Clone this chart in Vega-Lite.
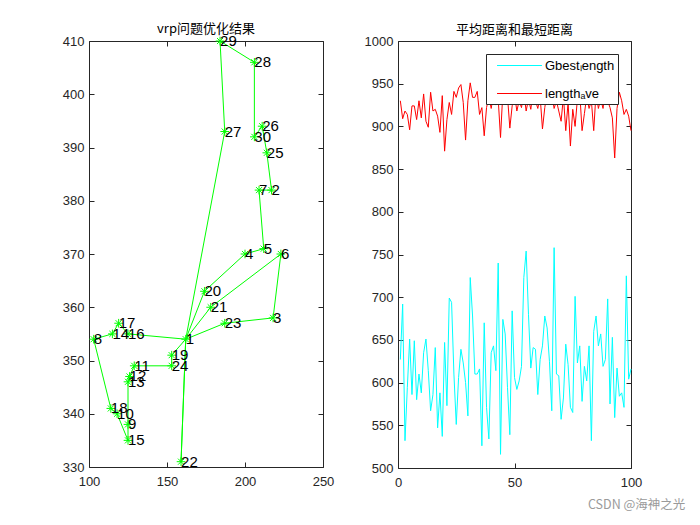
{
  "$schema": "https://vega.github.io/schema/vega-lite/v6.json",
  "padding": {"left": 61, "top": 22, "right": 5, "bottom": 5},
  "title": {"text": "CSDN @海神之光", "orient": "bottom", "anchor": "end", "color": "#9a9a9a", "fontSize": 12.5, "font": "Noto Sans CJK SC", "fontWeight": "normal", "offset": 9, "dx": 43},
  "datasets": {
    "nodes": [
      {"id": "1", "x": 162, "y": 354}, {"id": "2", "x": 217, "y": 382}, {"id": "3", "x": 218, "y": 358},
      {"id": "4", "x": 200, "y": 370}, {"id": "5", "x": 212, "y": 371}, {"id": "6", "x": 223, "y": 370},
      {"id": "7", "x": 209, "y": 382}, {"id": "8", "x": 103, "y": 354}, {"id": "9", "x": 125, "y": 338},
      {"id": "10", "x": 118, "y": 340}, {"id": "11", "x": 129, "y": 349}, {"id": "12", "x": 126, "y": 347},
      {"id": "13", "x": 125, "y": 346}, {"id": "14", "x": 115, "y": 355}, {"id": "15", "x": 125, "y": 335},
      {"id": "16", "x": 125, "y": 355}, {"id": "17", "x": 119, "y": 357}, {"id": "18", "x": 114, "y": 341},
      {"id": "19", "x": 153, "y": 351}, {"id": "20", "x": 174, "y": 363}, {"id": "21", "x": 178, "y": 360},
      {"id": "22", "x": 159, "y": 331}, {"id": "23", "x": 187, "y": 357}, {"id": "24", "x": 153, "y": 349},
      {"id": "25", "x": 214, "y": 389}, {"id": "26", "x": 211, "y": 394}, {"id": "27", "x": 187, "y": 393},
      {"id": "28", "x": 206, "y": 406}, {"id": "29", "x": 184, "y": 410}, {"id": "30", "x": 206, "y": 392}
    ],
    "route": [
      {"seq": 1, "node": 1, "x": 162, "y": 354}, {"seq": 2, "node": 27, "x": 187, "y": 393},
      {"seq": 3, "node": 29, "x": 184, "y": 410}, {"seq": 4, "node": 28, "x": 206, "y": 406},
      {"seq": 5, "node": 30, "x": 206, "y": 392}, {"seq": 6, "node": 26, "x": 211, "y": 394},
      {"seq": 7, "node": 25, "x": 214, "y": 389}, {"seq": 8, "node": 2, "x": 217, "y": 382},
      {"seq": 9, "node": 7, "x": 209, "y": 382}, {"seq": 10, "node": 5, "x": 212, "y": 371},
      {"seq": 11, "node": 4, "x": 200, "y": 370}, {"seq": 12, "node": 20, "x": 174, "y": 363},
      {"seq": 13, "node": 1, "x": 162, "y": 354}, {"seq": 14, "node": 21, "x": 178, "y": 360},
      {"seq": 15, "node": 6, "x": 223, "y": 370}, {"seq": 16, "node": 3, "x": 218, "y": 358},
      {"seq": 17, "node": 23, "x": 187, "y": 357}, {"seq": 18, "node": 1, "x": 162, "y": 354},
      {"seq": 19, "node": 19, "x": 153, "y": 351}, {"seq": 20, "node": 24, "x": 153, "y": 349},
      {"seq": 21, "node": 11, "x": 129, "y": 349}, {"seq": 22, "node": 12, "x": 126, "y": 347},
      {"seq": 23, "node": 13, "x": 125, "y": 346}, {"seq": 24, "node": 9, "x": 125, "y": 338},
      {"seq": 25, "node": 15, "x": 125, "y": 335}, {"seq": 26, "node": 10, "x": 118, "y": 340},
      {"seq": 27, "node": 18, "x": 114, "y": 341}, {"seq": 28, "node": 8, "x": 103, "y": 354},
      {"seq": 29, "node": 14, "x": 115, "y": 355}, {"seq": 30, "node": 17, "x": 119, "y": 357},
      {"seq": 31, "node": 16, "x": 125, "y": 355}, {"seq": 32, "node": 1, "x": 162, "y": 354},
      {"seq": 33, "node": 22, "x": 159, "y": 331}, {"seq": 34, "node": 1, "x": 162, "y": 354}
    ],
    "conv": [
      {"it": 1, "G_best_length": 627, "length_ave": 930}, {"it": 2, "G_best_length": 692, "length_ave": 909},
      {"it": 3, "G_best_length": 532, "length_ave": 918}, {"it": 4, "G_best_length": 594, "length_ave": 914},
      {"it": 5, "G_best_length": 651, "length_ave": 896}, {"it": 6, "G_best_length": 586, "length_ave": 924},
      {"it": 7, "G_best_length": 649, "length_ave": 924}, {"it": 8, "G_best_length": 580, "length_ave": 908},
      {"it": 9, "G_best_length": 610, "length_ave": 930}, {"it": 10, "G_best_length": 588, "length_ave": 910},
      {"it": 11, "G_best_length": 635, "length_ave": 938}, {"it": 12, "G_best_length": 651, "length_ave": 906},
      {"it": 13, "G_best_length": 614, "length_ave": 899}, {"it": 14, "G_best_length": 567, "length_ave": 940},
      {"it": 15, "G_best_length": 586, "length_ave": 918}, {"it": 16, "G_best_length": 641, "length_ave": 920},
      {"it": 17, "G_best_length": 547, "length_ave": 912}, {"it": 18, "G_best_length": 588, "length_ave": 893},
      {"it": 19, "G_best_length": 537, "length_ave": 936}, {"it": 20, "G_best_length": 647, "length_ave": 871},
      {"it": 21, "G_best_length": 573, "length_ave": 908}, {"it": 22, "G_best_length": 699, "length_ave": 928},
      {"it": 23, "G_best_length": 694, "length_ave": 914}, {"it": 24, "G_best_length": 610, "length_ave": 941},
      {"it": 25, "G_best_length": 551, "length_ave": 934}, {"it": 26, "G_best_length": 606, "length_ave": 945},
      {"it": 27, "G_best_length": 639, "length_ave": 949}, {"it": 28, "G_best_length": 623, "length_ave": 928},
      {"it": 29, "G_best_length": 600, "length_ave": 884}, {"it": 30, "G_best_length": 561, "length_ave": 930},
      {"it": 31, "G_best_length": 723, "length_ave": 951}, {"it": 32, "G_best_length": 678, "length_ave": 934},
      {"it": 33, "G_best_length": 610, "length_ave": 934}, {"it": 34, "G_best_length": 610, "length_ave": 941},
      {"it": 35, "G_best_length": 616, "length_ave": 914}, {"it": 36, "G_best_length": 526, "length_ave": 922},
      {"it": 37, "G_best_length": 670, "length_ave": 889}, {"it": 38, "G_best_length": 571, "length_ave": 922},
      {"it": 39, "G_best_length": 534, "length_ave": 935}, {"it": 40, "G_best_length": 635, "length_ave": 921},
      {"it": 41, "G_best_length": 643, "length_ave": 938}, {"it": 42, "G_best_length": 614, "length_ave": 925},
      {"it": 43, "G_best_length": 740, "length_ave": 932}, {"it": 44, "G_best_length": 516, "length_ave": 887},
      {"it": 45, "G_best_length": 674, "length_ave": 940}, {"it": 46, "G_best_length": 657, "length_ave": 930},
      {"it": 47, "G_best_length": 594, "length_ave": 935}, {"it": 48, "G_best_length": 539, "length_ave": 898},
      {"it": 49, "G_best_length": 684, "length_ave": 924}, {"it": 50, "G_best_length": 606, "length_ave": 938},
      {"it": 51, "G_best_length": 592, "length_ave": 918}, {"it": 52, "G_best_length": 602, "length_ave": 930},
      {"it": 53, "G_best_length": 619, "length_ave": 922}, {"it": 54, "G_best_length": 723, "length_ave": 940},
      {"it": 55, "G_best_length": 754, "length_ave": 918}, {"it": 56, "G_best_length": 680, "length_ave": 932},
      {"it": 57, "G_best_length": 617, "length_ave": 920}, {"it": 58, "G_best_length": 641, "length_ave": 942},
      {"it": 59, "G_best_length": 639, "length_ave": 930}, {"it": 60, "G_best_length": 586, "length_ave": 921},
      {"it": 61, "G_best_length": 627, "length_ave": 935}, {"it": 62, "G_best_length": 643, "length_ave": 897},
      {"it": 63, "G_best_length": 678, "length_ave": 922}, {"it": 64, "G_best_length": 664, "length_ave": 940},
      {"it": 65, "G_best_length": 625, "length_ave": 932}, {"it": 66, "G_best_length": 567, "length_ave": 938},
      {"it": 67, "G_best_length": 758, "length_ave": 921}, {"it": 68, "G_best_length": 610, "length_ave": 930},
      {"it": 69, "G_best_length": 608, "length_ave": 918}, {"it": 70, "G_best_length": 557, "length_ave": 906},
      {"it": 71, "G_best_length": 582, "length_ave": 935}, {"it": 72, "G_best_length": 645, "length_ave": 895},
      {"it": 73, "G_best_length": 621, "length_ave": 928}, {"it": 74, "G_best_length": 571, "length_ave": 877},
      {"it": 75, "G_best_length": 565, "length_ave": 920}, {"it": 76, "G_best_length": 701, "length_ave": 900},
      {"it": 77, "G_best_length": 623, "length_ave": 932}, {"it": 78, "G_best_length": 643, "length_ave": 940},
      {"it": 79, "G_best_length": 578, "length_ave": 895}, {"it": 80, "G_best_length": 619, "length_ave": 915},
      {"it": 81, "G_best_length": 602, "length_ave": 935}, {"it": 82, "G_best_length": 643, "length_ave": 921},
      {"it": 83, "G_best_length": 532, "length_ave": 930}, {"it": 84, "G_best_length": 660, "length_ave": 895},
      {"it": 85, "G_best_length": 678, "length_ave": 940}, {"it": 86, "G_best_length": 643, "length_ave": 921},
      {"it": 87, "G_best_length": 657, "length_ave": 932}, {"it": 88, "G_best_length": 619, "length_ave": 921},
      {"it": 89, "G_best_length": 627, "length_ave": 944}, {"it": 90, "G_best_length": 698, "length_ave": 930},
      {"it": 91, "G_best_length": 575, "length_ave": 922}, {"it": 92, "G_best_length": 653, "length_ave": 910},
      {"it": 93, "G_best_length": 559, "length_ave": 863}, {"it": 94, "G_best_length": 617, "length_ave": 921},
      {"it": 95, "G_best_length": 584, "length_ave": 940}, {"it": 96, "G_best_length": 588, "length_ave": 930},
      {"it": 97, "G_best_length": 571, "length_ave": 914}, {"it": 98, "G_best_length": 725, "length_ave": 920},
      {"it": 99, "G_best_length": 604, "length_ave": 912}, {"it": 100, "G_best_length": 616, "length_ave": 895}
    ]
  },
  "hconcat": [
    {
      "width": 234,
      "height": 426,
      "title": {"text": "vrp问题优化结果"},
      "layer": [
        {
          "data": {"name": "route"},
          "mark": {"type": "line", "color": "#00ff00", "strokeWidth": 1},
          "encoding": {
            "x": {"field": "x", "type": "quantitative", "scale": {"domain": [100, 250], "nice": false, "zero": false},
                  "axis": {"title": null, "values": [100, 150, 200, 250]}},
            "y": {"field": "y", "type": "quantitative", "scale": {"domain": [330, 410], "nice": false, "zero": false},
                  "axis": {"title": null, "values": [330, 340, 350, 360, 370, 380, 390, 400, 410]}},
            "order": {"field": "seq", "type": "quantitative"}
          }
        },
        {
          "data": {"name": "nodes"},
          "mark": {"type": "point", "shape": "M-1,0L1,0M0,-1L0,1M-0.7,-0.7L0.7,0.7M-0.7,0.7L0.7,-0.7", "filled": false, "stroke": "#00ff00", "strokeWidth": 1, "size": 75, "opacity": 1},
          "encoding": {
            "x": {"field": "x", "type": "quantitative", "axis": {"title": null, "orient": "top", "labels": false, "values": [100, 150, 200, 250]}},
            "y": {"field": "y", "type": "quantitative", "axis": {"title": null, "orient": "right", "labels": false, "values": [330, 340, 350, 360, 370, 380, 390, 400, 410]}}
          }
        },
        {
          "data": {"name": "nodes"},
          "mark": {"type": "text", "align": "left", "baseline": "middle", "dx": 0, "fontSize": 15, "font": "Liberation Sans", "color": "black"},
          "encoding": {
            "x": {"field": "x", "type": "quantitative", "axis": null},
            "y": {"field": "y", "type": "quantitative", "axis": null},
            "text": {"field": "id"}
          }
        }
      ],
      "resolve": {"axis": {"x": "independent", "y": "independent"}}
    },
    {
      "width": 233,
      "height": 427,
      "title": {"text": "平均距离和最短距离"},
      "data": {"name": "conv"},
      "layer": [
        {
          "mark": {"type": "line", "strokeWidth": 1},
          "encoding": {
            "x": {"field": "it", "type": "quantitative", "scale": {"domain": [0, 100], "nice": false, "zero": false},
                  "axis": {"title": null, "values": [0, 50, 100]}},
            "y": {"field": "G_best_length", "type": "quantitative", "scale": {"domain": [500, 1000], "nice": false, "zero": false},
                  "axis": {"title": null, "format": "d", "values": [500, 550, 600, 650, 700, 750, 800, 850, 900, 950, 1000]}},
            "color": {"datum": "G_best_length", "type": "nominal",
                      "scale": {"domain": ["G_best_length", "length_ave"], "range": ["#00ffff", "#ff0000"]},
                      "legend": {"title": null, "orient": "none", "legendX": 397, "legendY": 13,
                                 "labelExpr": "datum.label == 'G_best_length' ? 'Gbestₗength' : 'lengthₐve'"}}
          }
        },
        {
          "mark": {"type": "line", "strokeWidth": 1},
          "encoding": {
            "x": {"field": "it", "type": "quantitative", "axis": {"title": null, "orient": "top", "labels": false, "values": [0, 50, 100]}},
            "y": {"field": "length_ave", "type": "quantitative", "axis": {"title": null, "orient": "right", "labels": false, "values": [500, 550, 600, 650, 700, 750, 800, 850, 900, 950, 1000]}},
            "color": {"datum": "length_ave", "type": "nominal"}
          }
        }
      ],
      "resolve": {"axis": {"x": "independent", "y": "independent"}}
    }
  ],
  "spacing": 28,
  "config": {
    "view": {"stroke": "#262626", "strokeWidth": 1},
    "axis": {"grid": false, "domain": false, "tickColor": "#262626", "tickSize": -5, "labelFont": "Liberation Sans", "labelFontSize": 13, "labelColor": "#262626", "labelPadding": 10, "labelFlush": false, "labelOverlap": false},
    "axisX": {"labelPadding": 13},
    "title": {"font": "Noto Sans CJK SC", "fontSize": 13, "fontWeight": "normal", "color": "#000000", "offset": -2},
    "legend": {"fillColor": "white", "strokeColor": "#262626", "padding": 3, "cornerRadius": 0, "symbolType": "M-2.9,0L2.9,0", "symbolSize": 240, "symbolOffset": 22, "symbolStrokeWidth": 1, "labelFont": "Liberation Sans", "labelFontSize": 13, "labelColor": "#000000", "labelOffset": 17, "rowPadding": 12}
  }
}
